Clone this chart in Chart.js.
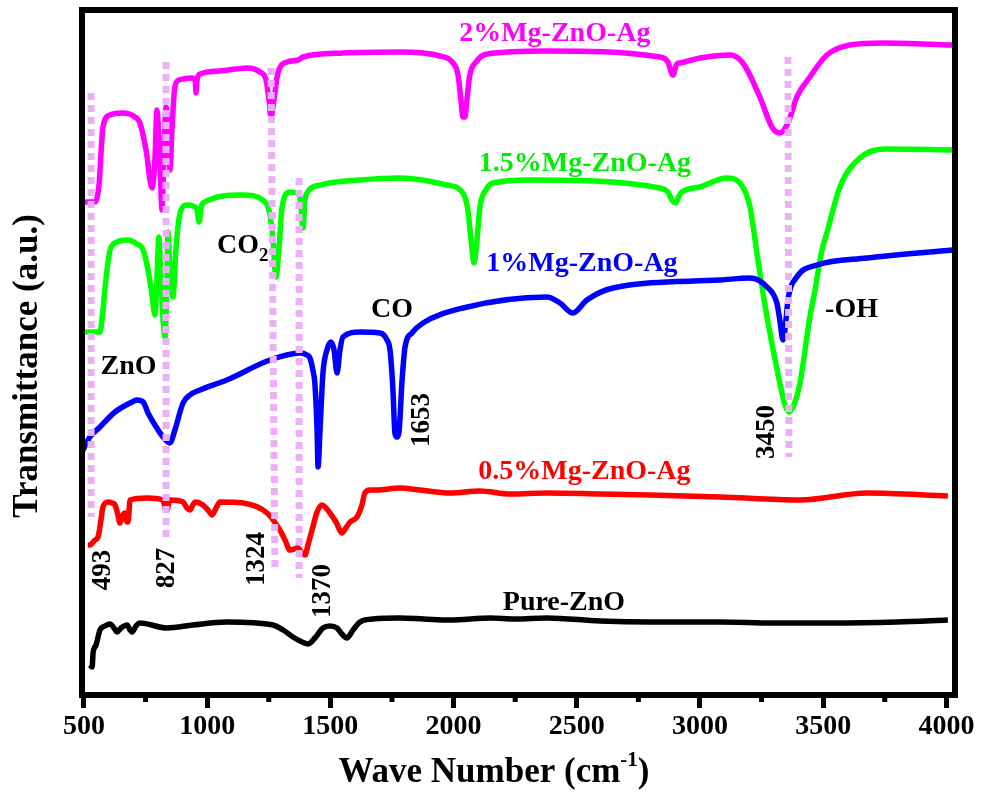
<!DOCTYPE html>
<html>
<head>
<meta charset="utf-8">
<title>FTIR spectra</title>
<script src="https://cdn.jsdelivr.net/npm/chart.js@4.4.0/dist/chart.umd.min.js"></script>
<style>
  html, body { margin: 0; padding: 0; background: #fff; }
  #wrap { width: 992px; height: 796px; }
</style>
</head>
<body>
<div id="wrap"><canvas id="ftir" width="992" height="796"></canvas></div>
<script>
// Values (wave number in cm-1, transmittance in offset a.u.)
const pureWave = [524, 533, 537, 549, 565, 585, 606, 622, 634, 650, 675, 687, 695, 711, 727, 837, 942, 1080, 1267, 1308,
    1348, 1377, 1409, 1437, 1470, 1498, 1527, 1547, 1567, 1592, 1620, 1673, 1782, 1880, 1985, 2150, 2250, 2379, 2594, 2800,
    3081, 3300, 3540, 3800, 4006];
const pureT = [30, 28, 42, 50, 65, 69, 71, 67, 63, 67, 70, 65, 63, 69, 72, 67, 70, 73, 70, 65,
    58, 54, 51, 57, 67, 69, 67, 61, 57, 65, 73, 76, 77, 76, 75, 77, 76, 77, 74, 73,
    73, 72, 72, 73, 75];

const mg05Wave = [516, 524, 545, 557, 569, 577, 598, 614, 626, 638, 646, 658, 666, 675, 679, 687, 756, 821, 829, 837,
    845, 849, 902, 918, 930, 942, 951, 983, 1003, 1020, 1036, 1052, 1145, 1243, 1295, 1316, 1336, 1369, 1385, 1397,
    1409, 1429, 1446, 1466, 1498, 1523, 1547, 1563, 1580, 1608, 1628, 1640, 1661, 1689, 1782, 1864, 1985, 2107, 2229, 2379,
    2594, 2797, 3081, 3406, 3678, 4006];
const mg05T = [150, 150, 155, 158, 175, 188, 193, 192, 190, 180, 172, 180, 182, 173, 173, 195, 197, 195, 187, 185,
    193, 195, 193, 187, 185, 190, 193, 190, 185, 180, 187, 193, 192, 182, 165, 155, 145, 147, 142, 140,
    150, 168, 183, 190, 182, 173, 162, 167, 173, 178, 190, 202, 205, 205, 207, 205, 202, 204, 201, 202,
    201, 200, 198, 195, 202, 199];

const mg1Wave = [492, 524, 565, 626, 687, 715, 740, 760, 788, 821, 849, 869, 902, 930, 971, 1080, 1255, 1377, 1405, 1417,
    1429, 1437, 1446, 1450, 1458, 1470, 1486, 1502, 1515, 1527, 1539, 1551, 1620, 1701, 1730, 1742, 1754, 1762, 1770, 1778,
    1791, 1803, 1831, 1876, 2038, 2379, 2432, 2484, 2541, 2647, 3081, 3203, 3272, 3312, 3324, 3337, 3349, 3357, 3393, 3475,
    3678, 4026];
const mg1T = [243, 258, 268, 283, 292, 295, 293, 282, 270, 258, 252, 265, 292, 300, 305, 315, 335, 342, 340, 337,
    325, 312, 265, 228, 265, 322, 345, 353, 345, 322, 345, 358, 363, 362, 355, 345, 305, 262, 258, 262,
    315, 348, 362, 372, 387, 398, 392, 382, 395, 407, 415, 417, 408, 392, 375, 355, 375, 395, 418, 430,
    437, 445];

const mg15Wave = [504, 565, 577, 589, 606, 634, 675, 715, 740, 760, 776, 788, 796, 804, 813, 821, 829, 837, 841, 849,
    861, 873, 890, 918, 951, 959, 967, 975, 983, 1145, 1226, 1255, 1267, 1279, 1291, 1304, 1336, 1364, 1377, 1389,
    1397, 1405, 1458, 1620, 1782, 1973, 2038, 2058, 2071, 2083, 2095, 2107, 2131, 2160, 2310, 2838, 2870, 2886, 2902, 2915,
    2927, 3000, 3109, 3162, 3203, 3235, 3272, 3324, 3345, 3361, 3381, 3406, 3446, 3467, 3495, 3515, 3568, 3649, 3759, 4026];
const mg15T = [363, 363, 385, 415, 445, 453, 455, 451, 445, 425, 400, 380, 415, 458, 415, 375, 358, 415, 463, 425,
    398, 445, 482, 490, 488, 485, 473, 487, 492, 500, 495, 480, 455, 418, 445, 488, 503, 502, 497, 467,
    495, 502, 510, 515, 517, 510, 502, 485, 455, 432, 455, 488, 505, 512, 515, 507, 503, 495, 492, 499,
    503, 508, 517, 512, 488, 435, 378, 312, 290, 283, 290, 312, 378, 405, 445, 462, 508, 537, 546, 545];

const mg2Wave = [492, 545, 561, 577, 606, 658, 707, 727, 752, 776, 788, 796, 809, 817, 825, 833, 841, 849, 857, 869,
    886, 902, 938, 951, 955, 959, 971, 1052, 1162, 1214, 1239, 1251, 1259, 1271, 1287, 1324, 1369, 1389, 1551, 1782,
    1945, 1994, 2018, 2030, 2038, 2046, 2054, 2066, 2091, 2135, 2379, 2838, 2870, 2890, 2906, 2919, 3000, 3122, 3174, 3243,
    3292, 3324, 3357, 3393, 3446, 3515, 3608, 3742, 4026];
const mg2T = [493, 493, 510, 568, 580, 582, 578, 572, 545, 507, 535, 585, 525, 485, 545, 588, 565, 525, 565, 608,
    615, 616, 617, 615, 602, 615, 621, 624, 627, 623, 615, 595, 578, 595, 622, 633, 635, 638, 642, 643,
    639, 633, 620, 595, 578, 578, 595, 620, 633, 641, 644, 638, 633, 620, 631, 632, 637, 640, 632, 598,
    568, 562, 572, 598, 618, 640, 650, 652, 650];

// dotted guide lines (wave number, transmittance) at top and bottom
const guideTop = [[529, 602], [833, 633], [1259, 627], [1373, 517], [3357, 638]];
const guideBottom = [[529, 178], [833, 157], [1275, 127], [1373, 117], [3361, 238]];

const majorTicks = [500, 1000, 1500, 2000, 2500, 3000, 3500, 4000];
const minorTicks = [750, 1250, 1750, 2250, 2750, 3250, 3750];

// text on the plot, placed in data units
const notes = [
    { text: '2%Mg-ZnO-Ag', x: 2411, y: 661, color: '#ff00ff' },
    { text: '1.5%Mg-ZnO-Ag', x: 2533, y: 531, color: '#00ee00' },
    { text: '1%Mg-ZnO-Ag', x: 2521, y: 431, color: '#0000ff' },
    { text: '0.5%Mg-ZnO-Ag', x: 2531, y: 223, color: '#ff0000' },
    { text: 'Pure-ZnO', x: 2448, y: 92, color: '#000' },
    { text: 'ZnO', x: 681, y: 328, color: '#000' },
    { text: 'CO', x: 1750, y: 385, color: '#000' },
    { text: '-OH', x: 3615, y: 385, color: '#000' }
];
const peakLabels = [
    { text: '493', x: 577, y: 125 },
    { text: '827', x: 839, y: 127 },
    { text: '1324', x: 1202, y: 136 },
    { text: '1370', x: 1470, y: 104 },
    { text: '1653', x: 1872, y: 275 },
    { text: '3450', x: 3272, y: 263 }
];

const SERIF = '"Liberation Serif", "Times New Roman", serif';

function zip(xs, ys) {
    return xs.map((x, i) => ({ x: x, y: ys[i] }));
}

function spectrum(xs, ys, color) {
    return {
        data: zip(xs, ys),
        borderColor: color,
        borderWidth: 5.5,
        pointRadius: 0,
        cubicInterpolationMode: 'monotone',
        order: 2
    };
}

const guides = guideTop.map((top, i) => ({
    data: [{ x: top[0], y: top[1] }, { x: guideBottom[i][0], y: guideBottom[i][1] }],
    borderColor: '#ebb0f5',
    borderWidth: 7,
    borderDash: [7, 5],
    borderCapStyle: 'butt',
    pointRadius: 0,
    order: 1
}));

const datasets = [
    spectrum(pureWave, pureT, '#000000'),
    spectrum(mg05Wave, mg05T, '#ff0000'),
    spectrum(mg1Wave, mg1T, '#0000ff'),
    spectrum(mg15Wave, mg15T, '#00ff00'),
    spectrum(mg2Wave, mg2T, '#ff00ff')
].concat(guides);

// frame, minor ticks, titles and labels
const decorPlugin = {
    id: 'decor',
    afterDraw(chart) {
        const { ctx, chartArea: a, scales: { x, y } } = chart;
        ctx.save();
        ctx.strokeStyle = '#000';

        ctx.lineWidth = 5;
        minorTicks.forEach(v => {
            const px = x.getPixelForValue(v);
            ctx.beginPath();
            ctx.moveTo(px, a.bottom);
            ctx.lineTo(px, a.bottom + 7);
            ctx.stroke();
        });

        ctx.lineWidth = 6;
        ctx.strokeRect(a.left, a.top, a.right - a.left, a.bottom - a.top);

        ctx.textBaseline = 'middle';
        ctx.textAlign = 'center';
        ctx.font = 'bold 28px ' + SERIF;
        notes.forEach(n => {
            ctx.fillStyle = n.color;
            ctx.fillText(n.text, x.getPixelForValue(n.x), y.getPixelForValue(n.y));
        });

        // CO2 with subscript
        ctx.fillStyle = '#000';
        ctx.textAlign = 'left';
        const coX = x.getPixelForValue(1040);
        const coY = y.getPixelForValue(449);
        ctx.fillText('CO', coX, coY);
        const coW = ctx.measureText('CO').width;
        ctx.font = 'bold 19px ' + SERIF;
        ctx.fillText('2', coX + coW, coY + 10);

        ctx.font = 'bold 27px ' + SERIF;
        ctx.textAlign = 'center';
        peakLabels.forEach(p => {
            ctx.save();
            ctx.translate(x.getPixelForValue(p.x), y.getPixelForValue(p.y));
            ctx.rotate(-Math.PI / 2);
            ctx.fillText(p.text, 0, 0);
            ctx.restore();
        });

        // x axis title with superscript
        ctx.textAlign = 'left';
        ctx.font = 'bold 35px ' + SERIF;
        const t1 = 'Wave Number (cm', t3 = ')';
        const w1 = ctx.measureText(t1).width, w3 = ctx.measureText(t3).width;
        ctx.font = 'bold 21px ' + SERIF;
        const w2 = ctx.measureText('-1').width;
        const tx = 494 - (w1 + w2 + w3) / 2;
        const ty = 773;
        ctx.font = 'bold 35px ' + SERIF;
        ctx.fillText(t1, tx, ty);
        ctx.font = 'bold 21px ' + SERIF;
        ctx.fillText('-1', tx + w1, ty - 12);
        ctx.font = 'bold 35px ' + SERIF;
        ctx.fillText(t3, tx + w1 + w2, ty);

        // y axis title
        ctx.save();
        ctx.translate(28, 366);
        ctx.rotate(-Math.PI / 2);
        ctx.textAlign = 'center';
        ctx.fillText('Transmittance (a.u.)', 0, 0);
        ctx.restore();

        ctx.restore();
    }
};

const ctx = document.getElementById('ftir').getContext('2d');
new Chart(ctx, {
    type: 'line',
    data: { datasets: datasets },
    options: {
        responsive: false,
        animation: false,
        devicePixelRatio: 1,
        layout: { padding: { top: 10, right: 37, left: 0, bottom: 0 } },
        plugins: {
            legend: { display: false },
            tooltip: { enabled: false }
        },
        scales: {
            x: {
                type: 'linear',
                min: 492,
                max: 4035,
                afterBuildTicks: s => { s.ticks = majorTicks.map(v => ({ value: v })); },
                afterFit: s => { s.height = 101; },
                ticks: {
                    color: '#000',
                    font: { family: SERIF, size: 28, weight: 'bold' },
                    padding: 2,
                    maxRotation: 0,
                    autoSkip: false,
                    callback: v => String(v)
                },
                grid: {
                    drawOnChartArea: false,
                    tickLength: 13,
                    tickWidth: 5,
                    tickColor: '#000'
                },
                border: { display: false }
            },
            y: {
                min: 0,
                max: 685,
                ticks: { display: false },
                grid: { display: false },
                border: { display: false },
                afterFit: s => { s.width = 82; }
            }
        }
    },
    plugins: [decorPlugin]
});
</script>
</body>
</html>
